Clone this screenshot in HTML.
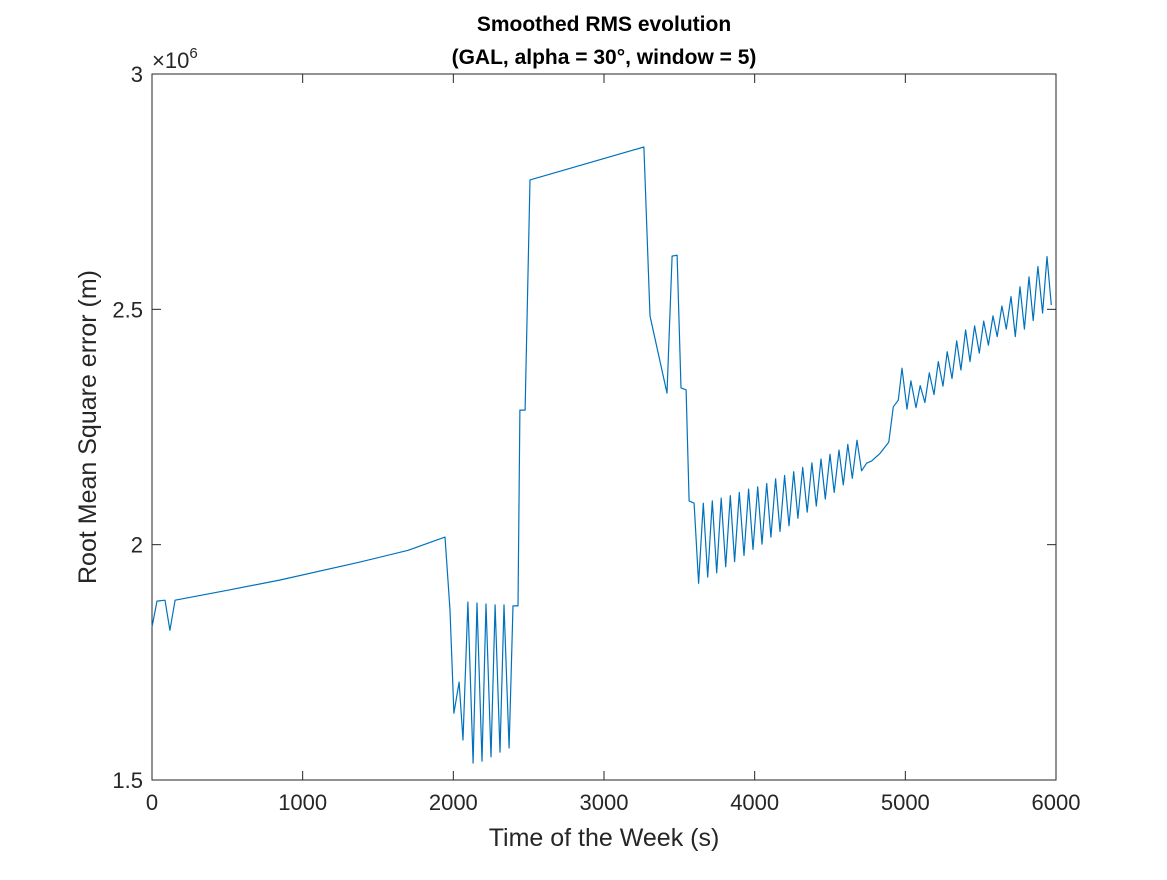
<!DOCTYPE html>
<html><head><meta charset="utf-8"><style>
html,body{margin:0;padding:0;background:#fff}
svg text{font-family:"Liberation Sans",Arial,sans-serif;fill:#262626}
</style></head><body>
<svg width="1167" height="875" xmlns="http://www.w3.org/2000/svg">
<rect width="1167" height="875" fill="#fff"/>
<g id="axes"></g>
<polyline id="series" fill="none" stroke="#0072BD" stroke-width="1.2" stroke-linejoin="round"/>
<text x="604" y="31" font-size="21" font-weight="bold" text-anchor="middle" style="fill:#000">Smoothed RMS evolution</text>
<text x="604" y="64" font-size="21" font-weight="bold" text-anchor="middle" style="fill:#000">(GAL, alpha = 30°, window = 5)</text>
<text x="152" y="68" font-size="22">×10<tspan font-size="15" dy="-10">6</tspan></text>
<text x="604" y="846" font-size="25" text-anchor="middle">Time of the Week (s)</text>
<text x="96" y="427" font-size="25" text-anchor="middle" transform="rotate(-90 96 427)">Root Mean Square error (m)</text>
</svg>
<script>
const xTicks=[0,1000,2000,3000,4000,5000,6000];
const yTicks=[1.5,2,2.5,3];
const yTickLabels=["1.5","2","2.5","3"];
const times=[0,33,86,119,153,500,850,1380,1700,1945,1978,2004,2038,2064,2097,2131,2157,2190,2217,2250,2277,2310,2336,2370,2396,2429,2442,2476,2509,3265,3305,3418,3452,3485,3511,3545,3565,3598,
3628,3659,3688,3719,3748,3778,3808,3838,3867,3898,3929,3960,3989,4020,4049,4080,4108,4139,4168,4199,4228,4259,4287,4319,4349,4380,4409,4440,4469,4500,4528,4560,4588,4618,4648,4679,4710,
4743,4777,4832,4890,4920,4953,4978,5011,5037,5071,5099,5130,5159,5190,5219,5250,5278,5310,5341,5369,5400,5429,5460,5491,5520,5551,5582,5610,5641,5670,5701,5730,5761,5790,5821,5849,5880,5911,5940,5969];
const rms=[1.825,1.880,1.882,1.818,1.882,1.903,1.925,1.963,1.988,2.016,1.861,1.642,1.708,1.585,1.878,1.536,1.876,1.540,1.874,1.549,1.872,1.559,1.872,1.568,1.870,1.870,2.286,2.286,2.775,2.845,2.486,2.322,2.613,2.615,2.333,2.329,2.093,2.088,
1.918,2.088,1.931,2.093,1.940,2.099,1.953,2.104,1.964,2.111,1.977,2.118,1.990,2.123,2.001,2.130,2.016,2.140,2.028,2.147,2.040,2.155,2.056,2.164,2.069,2.174,2.082,2.182,2.097,2.192,2.111,2.201,2.127,2.213,2.141,2.222,2.157,
2.173,2.178,2.194,2.218,2.293,2.307,2.375,2.288,2.348,2.291,2.338,2.302,2.365,2.319,2.389,2.337,2.410,2.353,2.433,2.371,2.456,2.389,2.465,2.407,2.475,2.424,2.486,2.442,2.507,2.458,2.527,2.442,2.548,2.458,2.569,2.476,2.591,2.492,2.612,2.509];
const L=152,R=1056,T=74,B=780;
const xs=t=>L+(t-0)/6000*(R-L);
const ys=v=>B-(v-1.5)/1.5*(B-T);
const NS="http://www.w3.org/2000/svg";
const ax=document.getElementById('axes');
function mk(tag,attrs){const e=document.createElementNS(NS,tag);for(const k in attrs)e.setAttribute(k,attrs[k]);ax.appendChild(e);return e;}
const box=mk('rect',{x:L,y:T,width:R-L,height:B-T,fill:'none',stroke:'#262626','stroke-width':1});


xTicks.forEach(t=>{
  const x=xs(t);
  const a=mk('line',{x1:x,x2:x,y1:B,y2:B-9,stroke:'#262626'});
  
  
  const b=mk('line',{x1:x,x2:x,y1:T,y2:T+9,stroke:'#262626'});
  
  
  const tx=mk('text',{x:x,y:B+30,'font-size':22,'text-anchor':'middle'});
  tx.textContent=String(t);
  
  
});
yTicks.forEach((v,i)=>{
  const y=ys(v);
  const a=mk('line',{x1:L,x2:L+9,y1:y,y2:y,stroke:'#262626'});
  
  
  const b=mk('line',{x1:R,x2:R-9,y1:y,y2:y,stroke:'#262626'});
  
  
  const tx=mk('text',{x:L-9,y:y+8,'font-size':22,'text-anchor':'end'});
  tx.textContent=yTickLabels[i];
  
  
});
document.getElementById('series').setAttribute('points',times.map((t,i)=>xs(t).toFixed(1)+','+ys(rms[i]).toFixed(1)).join(' '));
</script>
</body></html>
